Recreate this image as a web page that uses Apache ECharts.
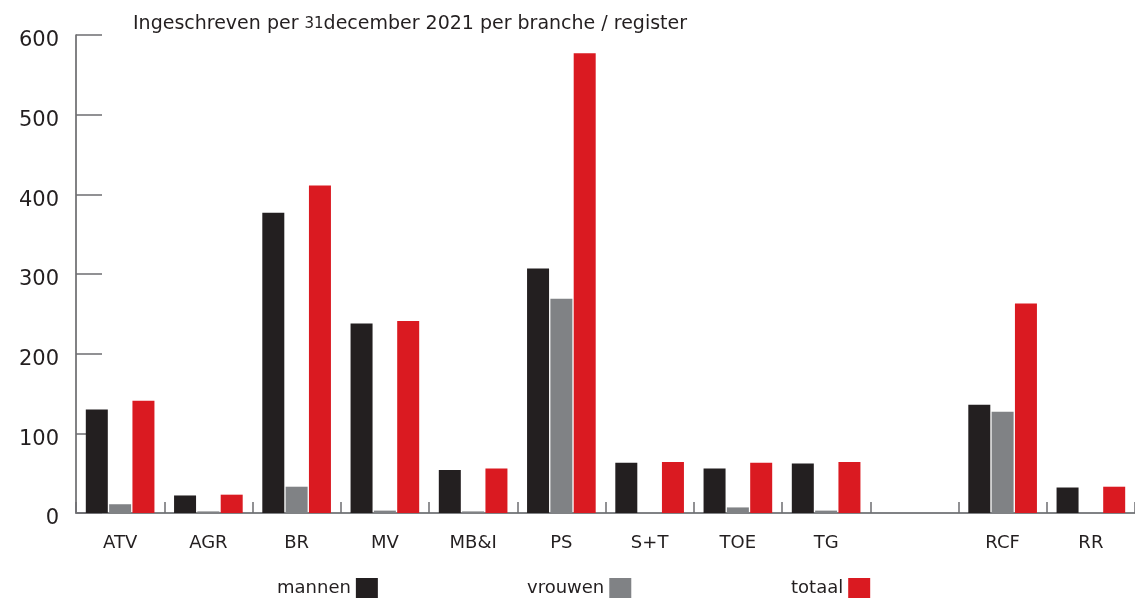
<!DOCTYPE html>
<html>
<head>
<meta charset="utf-8">
<script src="https://cdn.jsdelivr.net/npm/echarts@6/dist/echarts.min.js"></script>
<style>
  html, body { margin: 0; padding: 0; background: #fff; }
  #chart { width: 1135px; height: 603px; }
</style>
</head>
<body>
<div id="chart"></div>
<script>
// branches / registers (the blank slot separates the registers)
var categories = ['ATV', 'AGR', 'BR', 'MV', 'MB&I', 'PS', 'S+T', 'TOE', 'TG', '', 'RCF', 'RR'];
var mannen  = [130, 22, 377, 238, 54, 307, 63, 56, 62, null, 136, 32];
var vrouwen = [11, 2, 33, 3, 2, 269, 0, 7, 3, null, 127, 0];
var totaal  = [141, 23, 411, 241, 56, 577, 64, 63, 64, null, 263, 33];
var yTicks = [0, 600, 100]; // min, max, step

var seriesNames = ['mannen', 'vrouwen', 'totaal'];
var colors = ['#231f20', '#808285', '#da1a21'];
var FONT = 'DejaVu Sans';

function legendAt(name, left) {
    return {
        data: [name],
        left: left,
        top: 573,
        align: 'right',
        itemWidth: 22,
        itemHeight: 20,
        icon: 'rect',
        selectedMode: false,
        textStyle: { fontFamily: FONT, fontSize: 18, color: '#231f20' }
    };
}

var chart = echarts.init(document.getElementById('chart'));
chart.setOption({
    animation: false,
    color: colors,
    textStyle: { fontFamily: FONT },
    title: {
        text: 'Ingeschreven per {s|31}december 2021 per branche / register',
        left: 128,
        top: 10,
        textStyle: {
            fontFamily: FONT,
            fontSize: 19,
            fontWeight: 'normal',
            color: '#231f20',
            rich: { s: { fontFamily: FONT, fontSize: 15, color: '#231f20' } }
        }
    },
    legend: [legendAt('mannen', 272), legendAt('vrouwen', 522), legendAt('totaal', 786)],
    grid: { left: 76, right: 0, top: 35, bottom: 90 },
    xAxis: {
        type: 'category',
        data: categories,
        axisLine: { lineStyle: { color: '#808285', width: 2 } },
        axisTick: { show: true, inside: true, length: 11, interval: 0, lineStyle: { color: '#6d6e71', width: 1.5 } },
        axisLabel: { margin: 21, fontSize: 18, color: '#231f20', fontFamily: FONT, interval: 0 },
        splitLine: { show: false }
    },
    yAxis: {
        type: 'value',
        min: yTicks[0],
        max: yTicks[1],
        interval: yTicks[2],
        axisLine: { show: true, lineStyle: { color: '#58595b', width: 1.5 } },
        axisTick: { show: true, inside: true, length: 26, lineStyle: { color: '#6d6e71', width: 1.5 } },
        axisLabel: {
            margin: 17, fontSize: 21, color: '#231f20', fontFamily: FONT,
            verticalAlign: 'top', lineHeight: 12
        },
        splitLine: { show: false }
    },
    series: [mannen, vrouwen, totaal].map(function (d, i) {
        return {
            name: seriesNames[i],
            type: 'bar',
            barWidth: 22,
            barGap: '6%',
            data: d
        };
    })
});
</script>
</body>
</html>
